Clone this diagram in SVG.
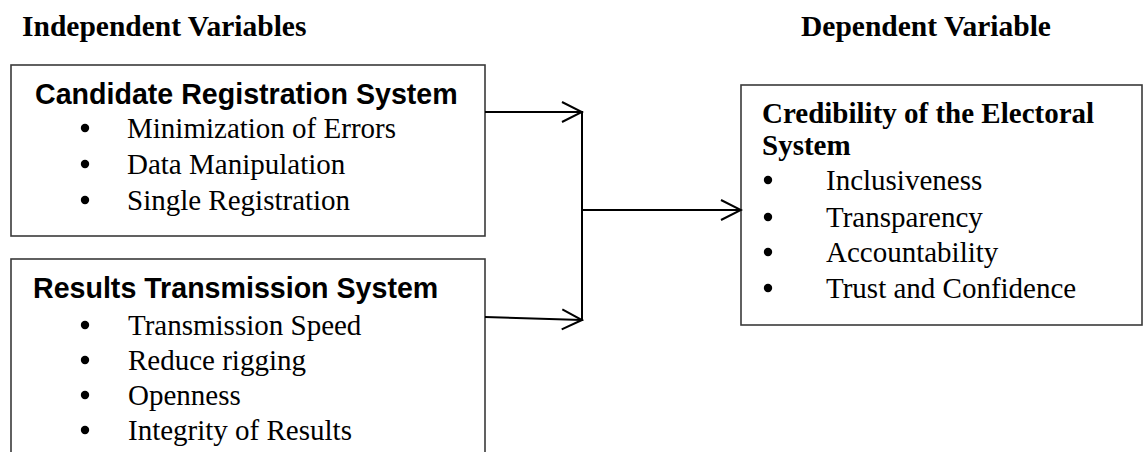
<svg xmlns="http://www.w3.org/2000/svg" width="1144" height="452" viewBox="0 0 1144 452">
  <style>
    .heading { font-family: "Liberation Serif", "Times New Roman", serif; font-weight: bold; font-size: 29.5px; fill: #000; }
    .boxtitle { font-family: "Liberation Sans", Arial, sans-serif; font-weight: bold; font-size: 28.6px; fill: #000; }
    .boxtitle-serif { font-family: "Liberation Serif", "Times New Roman", serif; font-weight: bold; font-size: 29px; fill: #000; }
    .item { font-family: "Liberation Serif", "Times New Roman", serif; font-size: 29px; fill: #000; }
    .frame { fill: #fff; stroke: #3a3a3a; stroke-width: 1.6; }
    .bullet { fill: #000; }
    .link { fill: none; stroke: #000; stroke-width: 2; }
  </style>
  <defs>
    <marker id="chevron" viewBox="0 0 24 24" refX="22" refY="12" markerWidth="24" markerHeight="24" markerUnits="userSpaceOnUse" orient="auto">
      <path d="M2 2 L22 12 L2 22" fill="none" stroke="#000" stroke-width="2"/>
    </marker>
  </defs>

  <rect width="1144" height="452" fill="#fff"/>

  <!-- column headings -->
  <text class="heading" x="22" y="36">Independent Variables</text>
  <text class="heading" x="801" y="36">Dependent Variable</text>

  <!-- independent variable 1 -->
  <g id="candidate-registration">
    <rect class="frame" x="11" y="65" width="474" height="171"/>
    <text class="boxtitle" x="35" y="104">Candidate Registration System</text>
    <circle class="bullet" cx="85" cy="128" r="4.2"/>
    <text class="item" x="127" y="138">Minimization of Errors</text>
    <circle class="bullet" cx="85" cy="164" r="4.2"/>
    <text class="item" x="127" y="174">Data Manipulation</text>
    <circle class="bullet" cx="85" cy="200" r="4.2"/>
    <text class="item" x="127" y="210">Single Registration</text>
  </g>

  <!-- independent variable 2 (box runs past the lower edge) -->
  <g id="results-transmission">
    <rect class="frame" x="11" y="259" width="474" height="220"/>
    <text class="boxtitle" x="33" y="298">Results Transmission System</text>
    <circle class="bullet" cx="85" cy="325" r="4.2"/>
    <text class="item" x="128" y="335">Transmission Speed</text>
    <circle class="bullet" cx="85" cy="360" r="4.2"/>
    <text class="item" x="128" y="370">Reduce rigging</text>
    <circle class="bullet" cx="85" cy="395" r="4.2"/>
    <text class="item" x="128" y="405">Openness</text>
    <circle class="bullet" cx="85" cy="430" r="4.2"/>
    <text class="item" x="128" y="440">Integrity of Results</text>
  </g>

  <!-- dependent variable -->
  <g id="electoral-credibility">
    <rect class="frame" x="741" y="85" width="401" height="240"/>
    <text class="boxtitle-serif" x="762" y="123">Credibility of the Electoral</text>
    <text class="boxtitle-serif" x="762" y="155">System</text>
    <circle class="bullet" cx="768" cy="180" r="4.2"/>
    <text class="item" x="826" y="190">Inclusiveness</text>
    <circle class="bullet" cx="768" cy="217" r="4.2"/>
    <text class="item" x="826" y="227">Transparency</text>
    <circle class="bullet" cx="768" cy="252" r="4.2"/>
    <text class="item" x="826" y="262">Accountability</text>
    <circle class="bullet" cx="768" cy="288" r="4.2"/>
    <text class="item" x="826" y="298">Trust and Confidence</text>
  </g>

  <!-- connectors -->
  <g id="connectors">
    <line class="link" x1="485" y1="112" x2="582" y2="112" marker-end="url(#chevron)"/>
    <line class="link" x1="485" y1="317" x2="582" y2="320" marker-end="url(#chevron)"/>
    <line class="link" x1="582" y1="111" x2="582" y2="321"/>
    <line class="link" x1="582" y1="210" x2="741" y2="210" marker-end="url(#chevron)"/>
  </g>
</svg>
